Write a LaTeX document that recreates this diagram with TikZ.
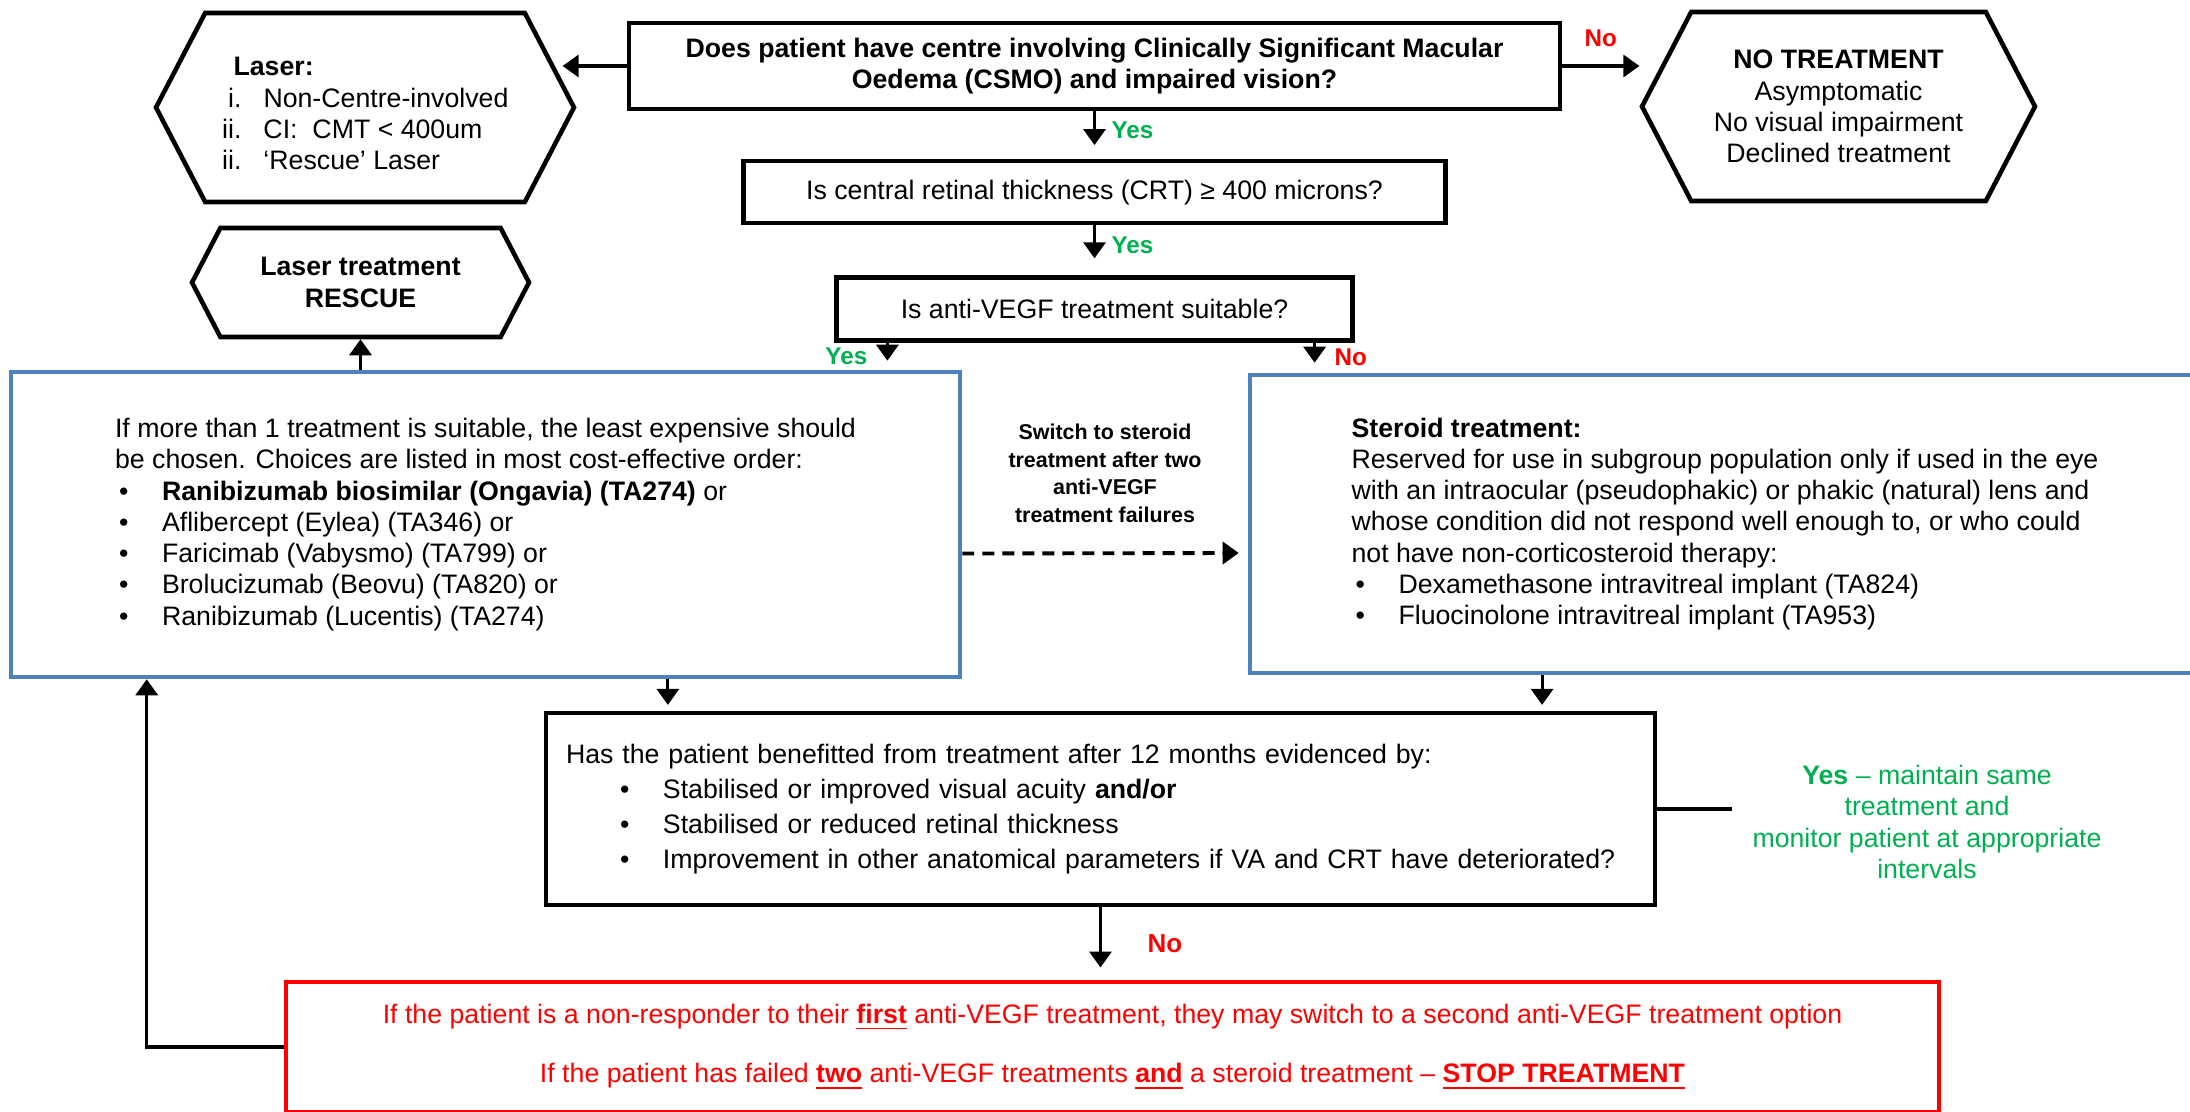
\documentclass[tikz,border=0pt]{standalone}
\usepackage{fontspec}
\setmainfont{Liberation Sans}
\usepackage{xcolor}
\definecolor{boxblue}{HTML}{4F81BD}
\definecolor{okgreen}{HTML}{00B050}
\definecolor{stopred}{HTML}{FF0000}
\usepackage{tikz}
\usetikzlibrary{shapes.symbols, arrows.meta, positioning, calc}
\newcommand{\bodyfs}{\fontsize{7.6}{8.9}\selectfont}
\newcommand{\lblfs}{\fontsize{6.9}{7.9}\selectfont\bfseries}
\newcommand{\blt}{\hspace*{0.04cm}\makebox[0.43cm][l]{\textbullet}}
\tikzset{
  qbox/.style   ={rectangle, draw=black, line width=1.2pt, fill=white, align=center, inner sep=2pt, font=\bodyfs},
  hexbox/.style ={signal, signal to=west and east, signal pointer angle=125, draw=black, line width=1.3pt,
                  fill=white, align=center, inner sep=2pt, font=\bodyfs},
  bluebox/.style={rectangle, draw=boxblue, line width=1.3pt, fill=white, align=left, inner sep=2pt, font=\bodyfs},
  stopbox/.style={rectangle, draw=stopred, line width=1.4pt, fill=white, text=stopred, align=center, font=\bodyfs},
  karr/.style   ={-{Triangle[length=1.6mm, width=2.2mm]}, line width=0.9pt},
  karrd/.style  ={karr, line width=1.1pt, dash pattern=on 3.4pt off 2.3pt},
  ylbl/.style   ={font=\lblfs, text=okgreen, inner sep=1pt},
  nlbl/.style   ={font=\lblfs, text=stopred, inner sep=1pt},
  swlbl/.style  ={font=\fontsize{6.1}{7.9}\selectfont\bfseries, align=center, inner sep=1pt},
}

\begin{document}
\begin{tikzpicture}
  \useasboundingbox (0,0) rectangle (21.9,-11.12);
  % decision chain
  \node[qbox, minimum width=9.31cm, minimum height=0.86cm, font=\bodyfs\bfseries] (q1) at (10.945,-0.66)
    {Does patient have centre involving Clinically Significant Macular\\Oedema (CSMO) and impaired vision?};
  \node[qbox, minimum width=7.02cm, minimum height=0.62cm, below=0.48cm of q1] (q2) {Is central retinal thickness (CRT) ≥ 400 microns?};
  \node[qbox, minimum width=5.16cm, minimum height=0.63cm, below=0.5cm of q2] (q3) {Is anti-VEGF treatment suitable?};
  % side outcomes
  \node[hexbox, minimum width=4.18cm, minimum height=1.89cm, align=left] (laser) at (3.65,-1.075)
    {\rule{0pt}{1.15em}\hspace*{0.12cm}\textbf{Laser:}\\
     \makebox[0.2cm][r]{i.}\hspace{0.22cm}Non-Centre-involved\\
     \makebox[0.2cm][r]{ii.}\hspace{0.22cm}CI:\ \ CMT < 400um\\
     \makebox[0.2cm][r]{ii.}\hspace{0.22cm}‘Rescue’ Laser};
  \node[hexbox, minimum width=3.37cm, minimum height=1.09cm, font=\bodyfs\bfseries] (rescue) at (3.605,-2.825) {Laser treatment\\RESCUE};
  \node[hexbox, minimum width=3.93cm, minimum height=1.89cm] (notreat) at (18.385,-1.065)
    {\textbf{NO TREATMENT}\\Asymptomatic\\No visual impairment\\Declined treatment};
  % treatment boxes
  \node[bluebox, minimum width=9.49cm, minimum height=3.05cm] (avegf) at (4.855,-5.245)
    {If more than 1 treatment is suitable, the least expensive should\\
     be chosen. Choices are listed in most cost-effective order:\\
     \blt\textbf{Ranibizumab biosimilar (Ongavia) (TA274)} or\\
     \blt Aflibercept (Eylea) (TA346) or\\
     \blt Faricimab (Vabysmo) (TA799) or\\
     \blt Brolucizumab (Beovu) (TA820) or\\
     \blt Ranibizumab (Lucentis) (TA274)};
  \node[bluebox, minimum width=9.5cm, minimum height=2.98cm] (steroid) at (17.25,-5.24)
    {\textbf{Steroid treatment:}\\
     Reserved for use in subgroup population only if used in the eye\\
     with an intraocular (pseudophakic) or phakic (natural) lens and\\
     whose condition did not respond well enough to, or who could\\
     not have non-corticosteroid therapy:\\
     \blt Dexamethasone intravitreal implant (TA824)\\
     \blt Fluocinolone intravitreal implant (TA953)};
  \node[qbox, align=left, text width=10.69cm, inner xsep=0.2cm, minimum height=1.92cm] (benefit) at (11.005,-8.09)
    {Has the patient benefitted from treatment after 12 months evidenced by:\\[1pt]
     \hspace*{0.5cm}\blt Stabilised or improved visual acuity \textbf{and/or}\\[1pt]
     \hspace*{0.5cm}\blt Stabilised or reduced retinal thickness\\[1pt]
     \hspace*{0.5cm}\blt Improvement in other anatomical parameters if VA and CRT have deteriorated?};
  \node[font=\bodyfs, text=okgreen, align=center, inner sep=0.2cm] (keep) at (19.27,-8.22)
    {\textbf{Yes} – maintain same\\treatment and\\monitor patient at appropriate\\intervals};
  \node[stopbox, minimum width=16.53cm, minimum height=1.30cm] (stop) at (11.125,-10.47)
    {If the patient is a non-responder to their \underline{\textbf{first}} anti-VEGF treatment, they may switch to a second anti-VEGF treatment option\\[8pt]
     If the patient has failed \underline{\textbf{two}} anti-VEGF treatments \underline{\textbf{and}} a steroid treatment – \underline{\textbf{STOP TREATMENT}}};
  % connectors
  \coordinate (yesdn) at ($(q3.south west)+(0.53,0)$);
  \coordinate (nodn) at ($(q3.south east)+(-0.40,0)$);
  \coordinate (bin1) at ($(benefit.north west)+(1.24,0)$);
  \coordinate (bin2) at ($(benefit.north east)+(-1.15,0)$);
  \coordinate (back) at ($(avegf.south west)+(1.38,0)$);
  \draw[karr] (q1.west) -- ($(laser.east |- q1.west)+(-0.14,0)$);
  \draw[karr] (q1.east) -- node[nlbl, above=4pt] {No} (notreat.west |- q1.east);
  \draw[karr, shorten >=1.4mm] (q1) -- node[ylbl, right=0.12cm, pos=0.4] {Yes} (q2);
  \draw[karr, shorten >=1.7mm] (q2) -- node[ylbl, right=0.12cm, pos=0.4] {Yes} (q3);
  \draw[karr, shorten >=0.9mm] (yesdn) -- node[ylbl, left=0.15cm] {Yes} (yesdn |- avegf.north);
  \draw[karr, shorten >=1mm] (nodn) -- node[nlbl, right=0.15cm] {No} (nodn |- steroid.north);
  \draw[karr] (rescue.south |- avegf.north) -- (rescue.south);
  \draw[karrd, shorten >=0.9mm] ($(avegf.east)+(0,-0.29)$) -- node[swlbl, above=0.25cm]
    {Switch to steroid\\treatment after two\\anti-VEGF\\treatment failures} ($(steroid.west)+(0,-0.29)$);
  \draw[karr, shorten >=0.6mm] (bin1 |- avegf.south) -- (bin1);
  \draw[karr, shorten >=0.6mm] (bin2 |- steroid.south) -- (bin2);
  \draw[line width=1.2pt] (benefit.east) -- (keep.west |- benefit.east);
  \draw[karr, shorten >=1.2mm] (benefit.south) -- node[nlbl, right=0.42cm, font=\fontsize{7.4}{8}\selectfont\bfseries] {No} (benefit.south |- stop.north);
  \draw[karr] (stop.west) -| (back);
\end{tikzpicture}
\end{document}
